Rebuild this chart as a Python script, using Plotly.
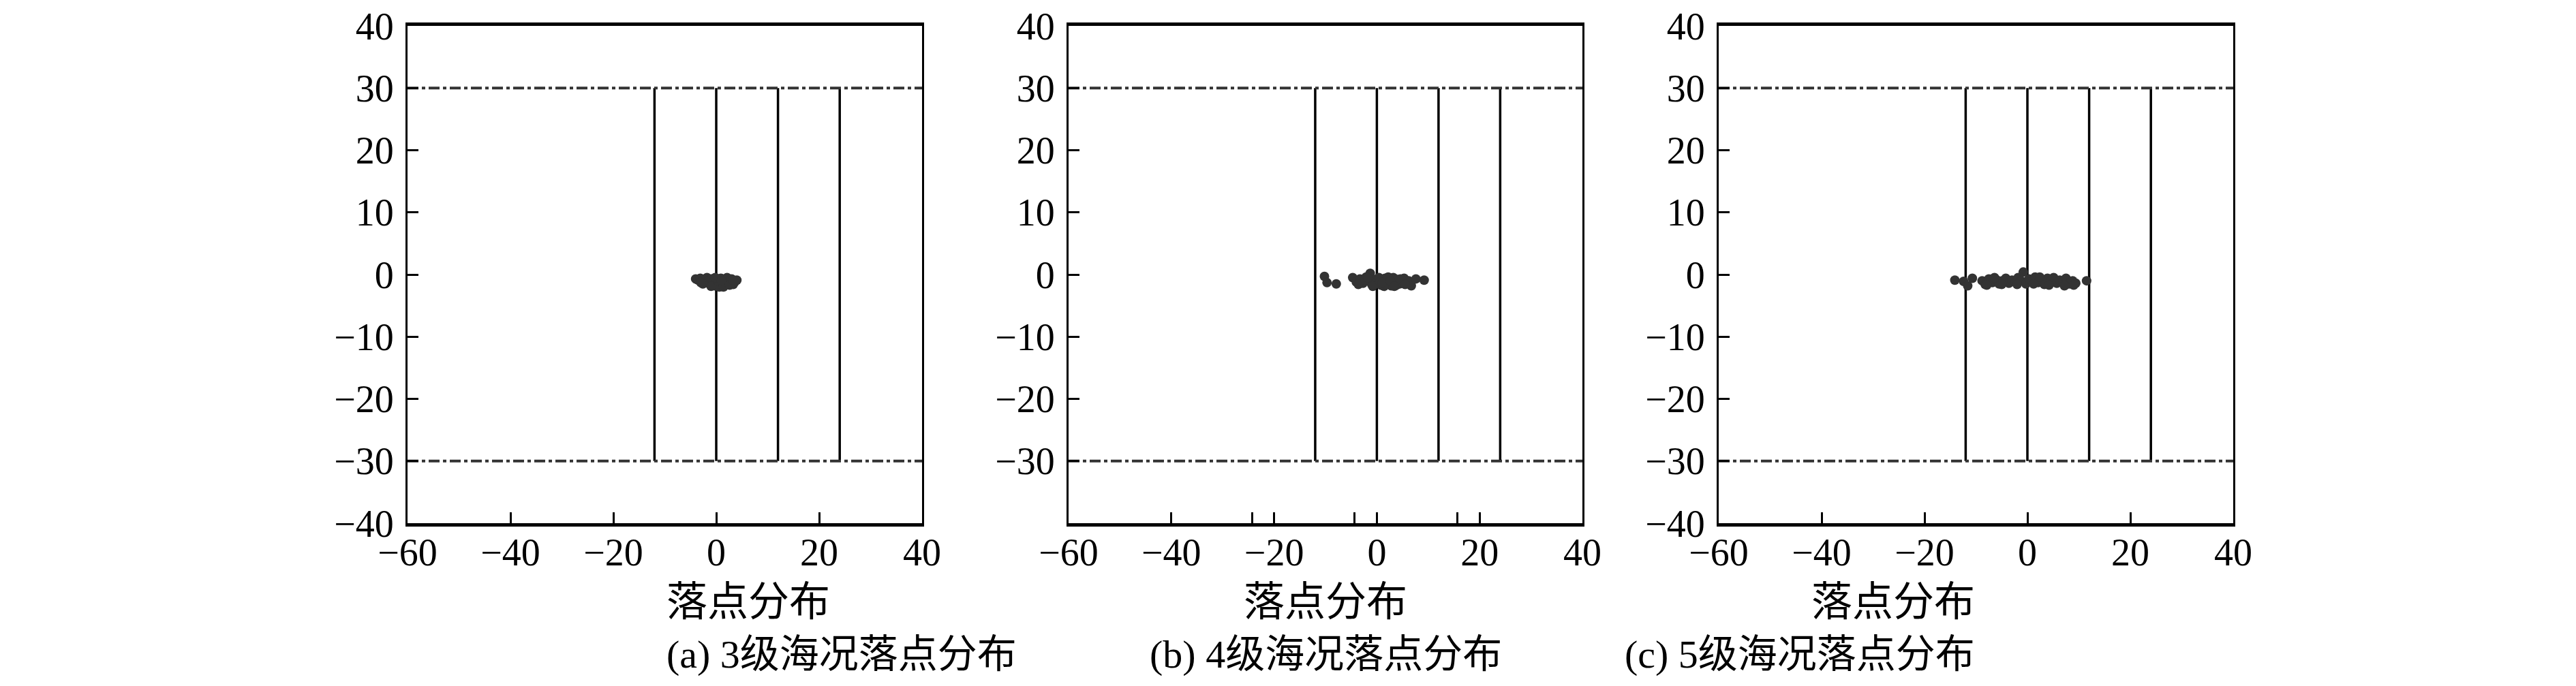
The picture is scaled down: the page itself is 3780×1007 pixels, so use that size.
import plotly.graph_objects as go

# landing points, sea state 3 / 4 / 5
xa = [-4.0, -3.5, -3.1, -2.8, -2.4, -2.1, -1.8, -1.5, -1.2, -0.9, -0.6, -0.3, 0.0, 0.3, 0.6,
      0.9, 1.2, 1.5, 1.8, 2.1, 2.4, 2.7, 3.0, 3.3, 3.6, 4.0, -2.6, -1.0, 0.4, 1.4, 2.6, -0.2,
      1.0, 3.2, -3.0]
ya = [-0.7, -0.9, -0.6, -1.1, -0.8, -1.3, -0.5, -1.0, -1.6, -0.7, -1.2, -1.8, -0.9, -1.5, -2.0,
      -0.6, -1.3, -1.7, -1.0, -0.5, -1.4, -1.1, -0.7, -1.6, -1.2, -0.9, -1.5, -1.9, -1.1, -2.0,
      -1.7, -0.5, -1.0, -0.9, -1.3]

xb = [-10.2, -9.7, -7.9, -4.7, -4.0, -3.3, -2.7, -2.1, -1.6, -1.3, -1.0, -0.5, 0.0, 0.4, 0.8,
      1.2, 1.6, 2.0, 2.4, 2.8, 3.2, 3.6, 4.0, 4.4, 4.8, 5.3, 5.8, 6.2, 6.7, 7.6, 9.2, -3.6,
      -2.3, -0.8, 0.6, 1.4, 2.2, 3.0, 3.8, 4.6, 5.5, -1.8, 1.0, 2.6, 3.4]
yb = [-0.3, -1.3, -1.5, -0.5, -1.2, -0.7, -1.4, -0.4, -1.0, 0.2, -1.6, -0.8, -1.2, -0.5, -1.7,
      -1.0, -0.6, -1.4, -0.9, -1.8, -0.5, -1.2, -0.8, -1.5, -1.0, -0.6, -1.3, -1.0, -1.8, -0.7,
      -0.9, -1.6, -0.9, -1.9, -1.1, -1.9, -0.4, -1.3, -1.7, -0.7, -1.6, -0.5, -1.3, -1.0, -1.9]

xc = [-14.1, -12.4, -11.6, -10.7, -8.8, -8.2, -7.5, -6.8, -6.1, -5.5, -4.9, -4.2, -3.6, -3.0,
      -2.4, -1.8, -1.2, -0.8, -0.3, 0.3, 0.9, 1.5, 2.1, 2.7, 3.3, 3.9, 4.5, 5.1, 5.7, 6.3,
      6.9, 7.5, 8.1, 8.8, 9.4, 11.5, -7.9, -5.0, -2.0, 1.2, 4.2, 7.2, 9.0, -6.4, 2.4]
yc = [-0.9, -1.1, -1.8, -0.6, -1.0, -1.6, -0.7, -1.3, -0.8, -1.5, -1.0, -0.6, -1.4, -0.9,
      -1.2, -0.5, -1.0, 0.4, -1.5, -0.7, -1.1, -0.4, -1.3, -0.8, -1.6, -0.6, -1.1, -0.5, -1.4,
      -0.9, -1.2, -0.6, -1.5, -1.0, -1.4, -1.0, -1.7, -1.6, -1.6, -1.5, -1.7, -1.8, -1.7, -0.5,
      -0.4]

lane_x = [-12, 0, 12, 24]
bound_y = [-30, 30]
x_range = [-60, 40]
y_range = [-40, 40]
x_ticks = [-60, -40, -20, 0, 20, 40]
y_ticks = [40, 30, 20, 10, 0, -10, -20, -30, -40]
# panel (b) has a few stray ticks and no -40 label in the source figure
xb_ticks = [-60, -40, -24.3, -20, -4.3, 0, 15.7, 20, 40]
yb_ticks = [40, 30, 20, 10, 0, -10, -20, -30]

captions = ['(a) 3级海况落点分布', '(b) 4级海况落点分布', '(c) 5级海况落点分布']
xtitle = '落点分布'

FONT = 'Liberation Serif, Times New Roman, Noto Sans CJK SC'
domains = [[590 / 3780, 1345 / 3780], [1560 / 3780, 2314 / 3780], [2514 / 3780, 3269 / 3780]]
ydom = [1 - 760 / 1007, 1 - 30 / 1007]

fig = go.Figure()

panels = [(xa, ya), (xb, yb), (xc, yc)]
for i, (px, py) in enumerate(panels):
    xr = 'x' if i == 0 else 'x%d' % (i + 1)
    yr = 'y' if i == 0 else 'y%d' % (i + 1)

    # vertical lane lines
    vx, vy = [], []
    for lx in lane_x:
        vx += [lx, lx, None]
        vy += [bound_y[0], bound_y[1], None]
    fig.add_trace(go.Scatter(x=vx, y=vy, mode='lines', xaxis=xr, yaxis=yr,
                             line=dict(color='black', width=3.5), showlegend=False))
    # dash-dot bounds
    for by in bound_y:
        fig.add_trace(go.Scatter(x=x_range, y=[by, by], mode='lines', xaxis=xr, yaxis=yr,
                                 line=dict(color='#333333', width=4, dash='16px,5px,5px,5px'),
                                 showlegend=False))
    fig.add_trace(go.Scatter(x=px, y=py, mode='markers', xaxis=xr, yaxis=yr,
                             marker=dict(color='#333333', size=14), showlegend=False))

    xt = xb_ticks if i == 1 else x_ticks
    yt = yb_ticks if i == 1 else y_ticks
    xtext = [('%d' % v if v in x_ticks else '') for v in xt]
    xtext = [t.replace('-', '\u2212') for t in xtext]
    ytext = [('%d' % v).replace('-', '\u2212') for v in yt]

    axis_common = dict(showgrid=False, zeroline=False, mirror=True, ticks='inside',
                       ticklen=16, tickwidth=3, tickcolor='black', automargin=False,
                       ticklabeloverflow='allow',
                       tickfont=dict(family=FONT, size=56, color='black'))
    fig.update_layout(**{
        ('xaxis' if i == 0 else 'xaxis%d' % (i + 1)): dict(
            domain=domains[i], range=x_range, anchor=yr, tickvals=xt, ticktext=xtext,
            showline=True, linecolor='black', linewidth=5, ticklabelstandoff=-10,
            **axis_common),
        ('yaxis' if i == 0 else 'yaxis%d' % (i + 1)): dict(
            domain=ydom, range=y_range, anchor=xr, tickvals=yt, ticktext=ytext,
            showline=True, linecolor='black', linewidth=3, ticklabelstandoff=6,
            **axis_common),
    })

    xc_mid = (domains[i][0] + domains[i][1]) / 2
    fig.add_annotation(x=xc_mid, y=1 - 876 / 1007, xref='paper', yref='paper',
                       text=xtitle, showarrow=False, yanchor='middle',
                       font=dict(family=FONT, size=60, color='black'))
    fig.add_annotation(x=xc_mid, y=1 - 952 / 1007, xref='paper', yref='paper',
                       text=captions[i], showarrow=False, yanchor='middle',
                       font=dict(family=FONT, size=58, color='black'))

fig.update_layout(width=3780, height=1007, margin=dict(l=0, r=0, t=0, b=0),
                  plot_bgcolor='white', paper_bgcolor='white')

fig.write_html("out.html")
